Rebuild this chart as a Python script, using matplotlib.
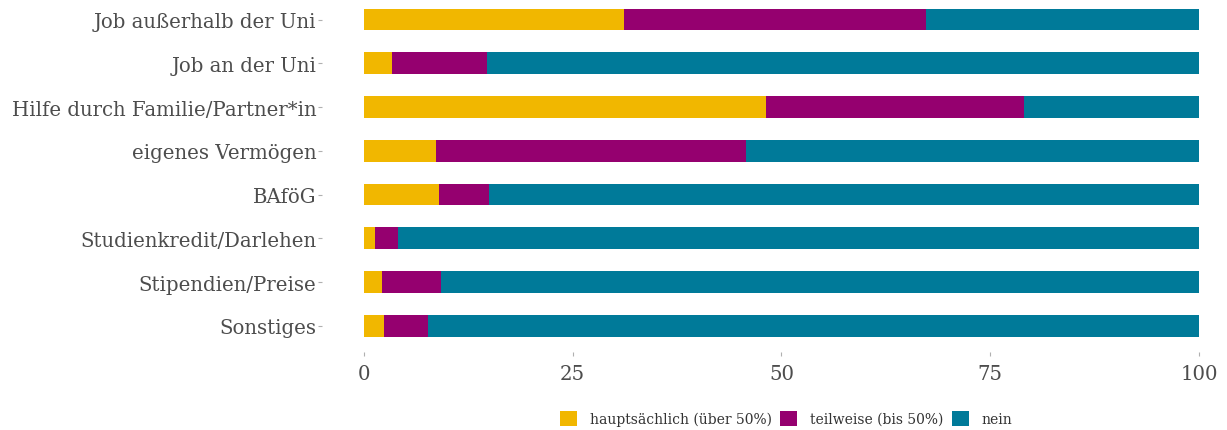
import numpy as np
import matplotlib
matplotlib.use('Agg')
import matplotlib.pyplot as plt
from matplotlib.patches import Patch

# data (percent of respondents)
categories = ['Job außerhalb der Uni', 'Job an der Uni', 'Hilfe durch Familie/Partner*in',
              'eigenes Vermögen', 'BAföG', 'Studienkredit/Darlehen', 'Stipendien/Preise', 'Sonstiges']
hauptsaechlich = [31.1, 3.4, 48.2, 8.6, 9.0, 1.3, 2.2, 2.4]
teilweise = [36.2, 11.3, 30.8, 37.2, 6.0, 2.8, 7.1, 5.3]
nein = [100 - a - b for a, b in zip(hauptsaechlich, teilweise)]

series_labels = ['hauptsächlich (über 50%)', 'teilweise (bis 50%)', 'nein']
colors = ['#F1B700', '#95006F', '#007A99']

plt.rcParams['font.family'] = ['DejaVu Serif']

fig = plt.figure(figsize=(12.27, 4.31), dpi=100)
ax = fig.add_axes([322 / 1227, 1 - 353 / 431, 1 - 322 / 1227, 353 / 431])

y = np.arange(len(categories))[::-1]
left = np.zeros(len(categories))
for vals, col in zip([hauptsaechlich, teilweise, nein], colors):
    ax.barh(y, vals, left=left, height=0.5, color=col, linewidth=0)
    left = left + np.array(vals)

ax.set_xlim(-5, (1227 - 363.7) / 8.353)
ax.set_ylim(-0.6, 7 + 20.5 / 43.74)
ax.set_xticks([0, 25, 50, 75, 100])
ax.set_yticks(y)
ax.set_yticklabels(categories)
ax.tick_params(axis='both', colors='#b0b0b0', length=3, width=0.8, labelcolor='#4d4d4d')
ax.tick_params(axis='y', labelsize=14.2, pad=1)
ax.tick_params(axis='x', labelsize=14.2, pad=6)
for s in ax.spines.values():
    s.set_visible(False)

handles = [Patch(facecolor=c, edgecolor='none') for c in colors]
fig.legend(handles, series_labels, loc='lower center', bbox_to_anchor=(786 / 1227, -0.02),
           ncol=3, frameon=False, fontsize=10, handlelength=1.25, handleheight=1.25,
           handletextpad=0.9, columnspacing=0.6, labelcolor='#333333')

fig.savefig('out.png', dpi=100)
